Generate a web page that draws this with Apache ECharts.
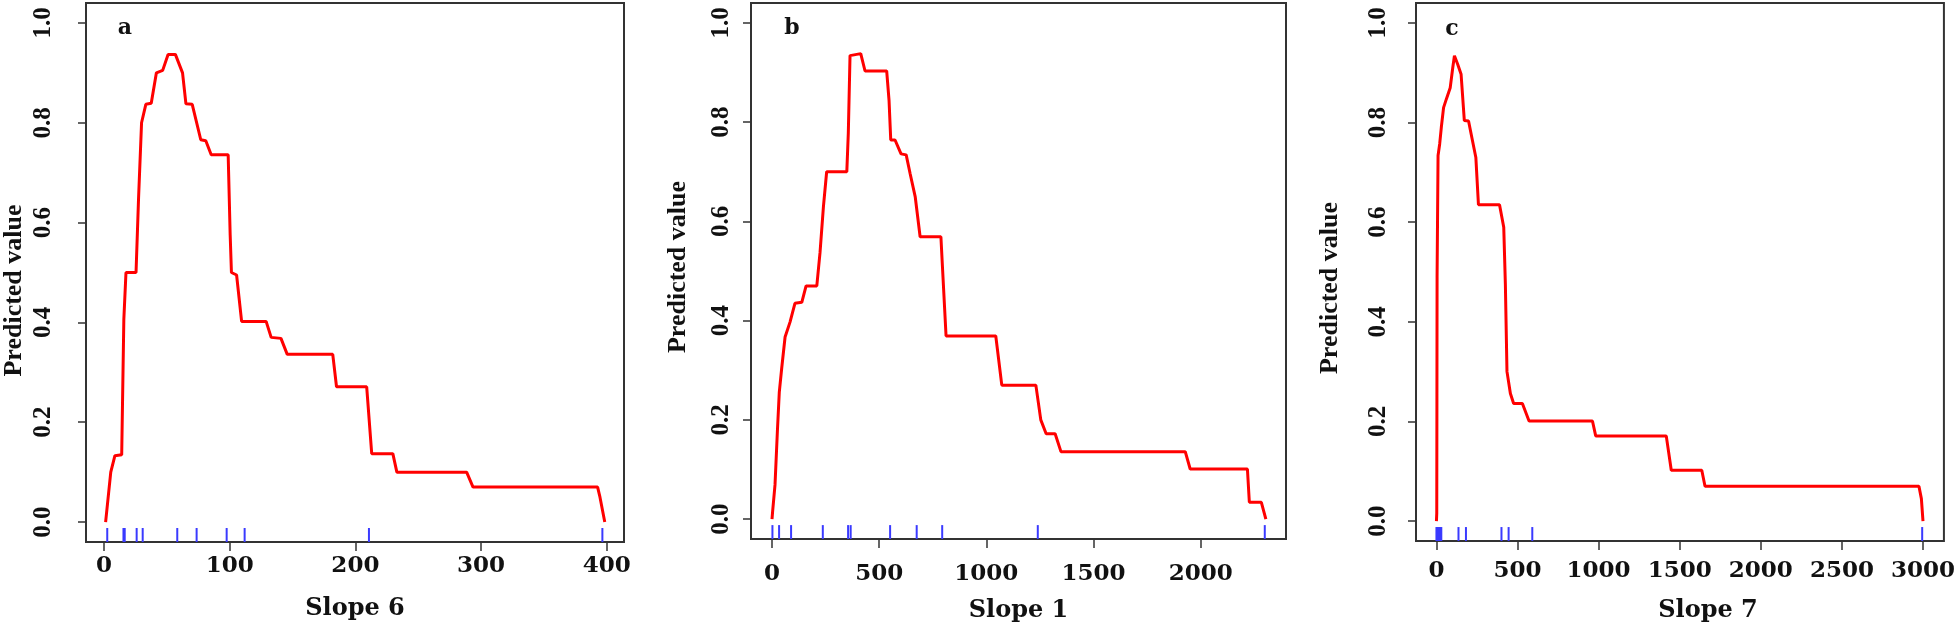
<!DOCTYPE html>
<html>
<head>
<meta charset="utf-8">
<script src="https://cdn.jsdelivr.net/npm/echarts@6.0.0/dist/echarts.min.js"></script>
<style>
  html, body { margin: 0; padding: 0; background: #fff; }
  #chart { width: 1958px; height: 628px; }
</style>
</head>
<body>
<div id="chart"></div>
<script>
// panel a - Slope 6
var slope6X = [1.3, 5.4, 8.7, 14.1, 15.8, 17.5, 25.5, 27.5, 29.9, 33.3, 37.6, 41.7, 46.7, 51, 56.8, 62.5, 65.2, 70.2, 77, 81, 85.3, 98.8, 100.4, 101.4, 105.5, 109.5, 129, 133, 140.8, 145.8, 182, 185, 209, 213, 229.8, 233, 288.5, 293.6, 392.7, 394.4, 398.4];
var slope6Y = [0, 0.10, 0.133, 0.135, 0.406, 0.50, 0.50, 0.648, 0.80, 0.837, 0.839, 0.90, 0.905, 0.937, 0.937, 0.90, 0.838, 0.837, 0.766, 0.764, 0.736, 0.736, 0.575, 0.50, 0.495, 0.402, 0.402, 0.37, 0.368, 0.336, 0.336, 0.271, 0.271, 0.137, 0.137, 0.10, 0.10, 0.07, 0.07, 0.052, 0];
var rug6 = [2.6, 15.5, 16.5, 26, 30.8, 58.3, 73.7, 97.6, 111.9, 210.8, 396.5];
var ticks6 = [0, 100, 200, 300, 400];

// panel b - Slope 1
var slope1X = [0, 3, 14, 25, 34, 45, 61, 84, 107, 139, 159, 209, 224, 240, 255, 349, 356, 364, 414, 434, 535, 546, 554, 574, 602, 626, 644, 668, 691, 788, 795, 812, 1044, 1072, 1231, 1254, 1279, 1321, 1348, 1928, 1951, 2218, 2227, 2283, 2304];
var slope1Y = [0, 0.016, 0.069, 0.176, 0.256, 0.303, 0.367, 0.397, 0.435, 0.437, 0.470, 0.470, 0.537, 0.63, 0.70, 0.70, 0.778, 0.934, 0.938, 0.903, 0.903, 0.844, 0.764, 0.764, 0.736, 0.734, 0.697, 0.65, 0.569, 0.569, 0.51, 0.369, 0.369, 0.27, 0.27, 0.2, 0.172, 0.172, 0.136, 0.136, 0.101, 0.101, 0.034, 0.034, 0];
var rug1 = [2, 33, 89, 237, 355, 367, 551, 675, 794, 1240, 2299];
var ticks1 = [0, 500, 1000, 1500, 2000];

// panel c - Slope 7
var slope7X = [0, 2, 3, 4, 10, 20, 30, 44, 61, 85, 101, 111, 131, 152, 172, 198, 222, 243, 259, 389, 415, 425, 435, 456, 476, 530, 571, 962, 982, 1417, 1448, 1636, 1656, 2975, 2990, 3000];
var slope7Y = [0, 0.016, 0.243, 0.49, 0.734, 0.757, 0.79, 0.83, 0.847, 0.87, 0.911, 0.934, 0.917, 0.897, 0.804, 0.803, 0.764, 0.73, 0.635, 0.635, 0.59, 0.476, 0.30, 0.256, 0.236, 0.236, 0.201, 0.201, 0.171, 0.171, 0.102, 0.102, 0.070, 0.070, 0.045, 0];
var rug7 = [0, 6, 12, 18, 24, 30, 136, 182, 401, 445, 591, 2995];
var ticks7 = [0, 500, 1000, 1500, 2000, 2500, 3000];

var yTicks = [0, 0.2, 0.4, 0.6, 0.8, 1.0];
var yMin = -0.04, yMax = 1.04;

var chart = echarts.init(document.getElementById('chart'));

// one panel per entry; layout numbers in px
var panels = [
  { xs: slope6X, ys: slope6Y, rug: rug6, ticks: ticks6, name: 'Slope 6', letter: 'a',
    left: 86, right: 1334, xmin: -14.3, xmax: 413.7,
    xLabMargin: 13, xNameGap: 55, xNamePad: [0, 0, 0, 0],
    yLabMargin: 30, yNameGap: 59, yNamePad: [0, 36, 0, 0], letterPos: [125, 28] },
  { xs: slope1X, ys: slope1Y, rug: rug1, ticks: ticks1, name: 'Slope 1', letter: 'b',
    left: 751, right: 672, xmin: -98, xmax: 2398,
    xLabMargin: 24, xNameGap: 60, xNamePad: [0, 0, 0, 0],
    yLabMargin: 17, yNameGap: 60, yNamePad: [0, 0, 0, 8], letterPos: [792, 28] },
  { xs: slope7X, ys: slope7Y, rug: rug7, ticks: ticks7, name: 'Slope 7', letter: 'c',
    left: 1416, right: 6, xmin: -126, xmax: 3129,
    xLabMargin: 19, xNameGap: 58, xNamePad: [0, 0, 0, 56],
    yLabMargin: 25, yNameGap: 73, yNamePad: [0, 32, 0, 0], letterPos: [1452, 29] }
];

var grids = [], xAxes = [], yAxes = [], series = [], graphics = [];

panels.forEach(function (p, i) {
  grids.push({
    left: p.left, right: p.right, top: 3, bottom: 86,
    show: true, borderColor: '#333', borderWidth: 2, backgroundColor: 'transparent'
  });
  xAxes.push({
    type: 'value', gridIndex: i, min: p.xmin, max: p.xmax,
    name: p.name, nameLocation: 'middle', nameGap: p.xNameGap,
    nameTextStyle: { fontFamily: 'DejaVu Serif', fontWeight: 'bold', fontSize: 24, color: '#111', padding: p.xNamePad },
    axisLine: { show: false, onZero: false },
    axisTick: { show: true, customValues: p.ticks, length: 9, lineStyle: { color: '#333', width: 1.5 } },
    axisLabel: {
      customValues: p.ticks, margin: p.xLabMargin, fontFamily: 'DejaVu Serif', fontWeight: 'bold', fontSize: 23, color: '#111',
      formatter: function (v) { return String(v); }
    },
    splitLine: { show: false }
  });
  yAxes.push({
    type: 'value', gridIndex: i, min: yMin, max: yMax,
    name: 'Predicted value', nameLocation: 'middle', nameRotate: 90, nameGap: p.yNameGap,
    nameTextStyle: { fontFamily: 'Liberation Serif', fontWeight: 'bold', fontSize: 26, color: '#111', padding: p.yNamePad },
    axisLine: { show: false, onZero: false },
    axisTick: { show: true, customValues: yTicks, length: 8, lineStyle: { color: '#333', width: 1.5 } },
    axisLabel: {
      customValues: yTicks, rotate: 90, margin: p.yLabMargin,
      fontFamily: 'Liberation Serif', fontWeight: 'bold', fontSize: 25, color: '#111',
      formatter: function (v) { return v.toFixed(1); }
    },
    splitLine: { show: false }
  });
  series.push({
    type: 'line', xAxisIndex: i, yAxisIndex: i,
    data: p.xs.map(function (x, k) { return [x, p.ys[k]]; }),
    showSymbol: false, silent: true,
    lineStyle: { color: '#ff0000', width: 3 }
  });
  // rug marks along the bottom
  series.push({
    type: 'custom', xAxisIndex: i, yAxisIndex: i, silent: true,
    data: p.rug.map(function (v) { return [v, yMin]; }),
    renderItem: function (params, api) {
      var a = api.coord([api.value(0), yMin]);
      var b = api.coord([api.value(0), -0.012]);
      return {
        type: 'line',
        shape: { x1: a[0], y1: a[1], x2: b[0], y2: b[1] },
        style: { stroke: '#3a3aff', lineWidth: 2 }
      };
    }
  });
  graphics.push({
    type: 'text', x: p.letterPos[0], y: p.letterPos[1],
    style: { text: p.letter, fontFamily: 'DejaVu Serif', fontWeight: 'bold', fontSize: 22, fill: '#111',
             textAlign: 'center', textVerticalAlign: 'middle' }
  });
});

chart.setOption({
  animation: false,
  grid: grids,
  xAxis: xAxes,
  yAxis: yAxes,
  series: series,
  graphic: graphics
});
</script>
</body>
</html>
